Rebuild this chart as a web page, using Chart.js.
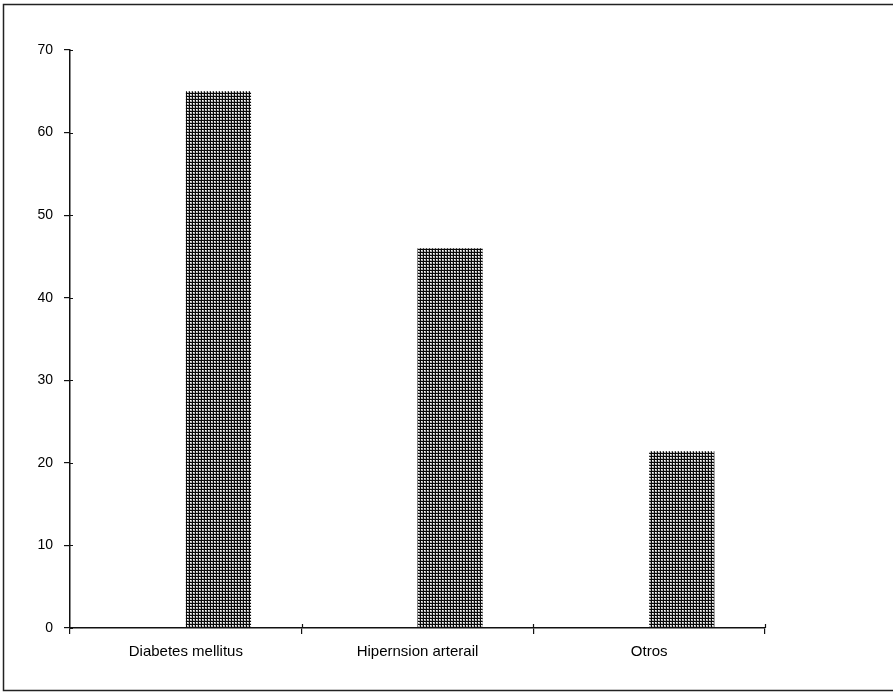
<!DOCTYPE html>
<html>
<head>
<meta charset="utf-8">
<script src="https://cdn.jsdelivr.net/npm/chart.js@4/dist/chart.umd.min.js"></script>
<style>
  html, body { margin: 0; padding: 0; background: #fff; }
  #wrap { width: 894px; height: 695px; position: relative; }
</style>
</head>
<body>
<div id="wrap"><canvas id="c" width="894" height="695"></canvas></div>
<script>
const categories = ["Diabetes mellitus", "Hipernsion arterail", "Otros"];
const values = [65, 46, 21.4];
const emptySeries = [null, null, null];
const yTicks = [0, 10, 20, 30, 40, 50, 60, 70];

function makePattern() {
  const t = document.createElement('canvas');
  t.width = 3; t.height = 3;
  const g = t.getContext('2d');
  g.fillStyle = '#b4b4b4';
  g.fillRect(0, 0, 3, 3);
  g.fillStyle = '#ffffff';
  g.fillRect(1, 1, 1, 1);
  g.fillStyle = '#0a0a0a';
  g.fillRect(0, 0, 3, 1);
  g.fillRect(0, 0, 1, 3);
  return document.getElementById('c').getContext('2d').createPattern(t, 'repeat');
}

const framePlugin = {
  id: 'frame',
  beforeDraw(chart) {
    const ctx = chart.ctx;
    ctx.save();
    ctx.fillStyle = '#fff';
    ctx.fillRect(0, 0, chart.width, chart.height);
    ctx.strokeStyle = '#222';
    ctx.lineWidth = 1.5;
    ctx.beginPath();
    ctx.moveTo(893, 4.5);
    ctx.lineTo(3.5, 4.5);
    ctx.lineTo(3.5, 690.5);
    ctx.lineTo(893, 690.5);
    ctx.stroke();
    ctx.restore();
  },
  afterDraw(chart) {
    const ctx = chart.ctx;
    const y = chart.scales.y, x = chart.scales.x;
    ctx.save();
    ctx.strokeStyle = '#111';
    ctx.lineWidth = 1.2;
    ctx.beginPath();
    yTicks.forEach(v => {
      const py = Math.round(y.getPixelForValue(v)) + 0.5;
      ctx.moveTo(x.left, py);
      ctx.lineTo(x.left + 3, py);
    });
    for (let i = 1; i <= categories.length; i++) {
      const px = (x.getPixelForTick(i - 1) + (i < categories.length ? x.getPixelForTick(i) : 2 * x.getPixelForTick(i - 1) - x.getPixelForTick(i - 2))) / 2;
      ctx.moveTo(Math.round(px) + 0.5, y.bottom);
      ctx.lineTo(Math.round(px) + 0.5, y.bottom - 4);
    }
    ctx.stroke();
    ctx.restore();
  }
};

const chart = new Chart(document.getElementById('c'), {
  type: 'bar',
  data: {
    labels: categories,
    datasets: [
      { label: 'vacío', data: emptySeries, backgroundColor: 'transparent' },
      { label: 'Casos', data: values, backgroundColor: makePattern(), borderWidth: 0 }
    ]
  },
  plugins: [framePlugin],
  options: {
    responsive: false,
    animation: false,
    datasets: { bar: { barPercentage: 1.0, categoryPercentage: 0.563 } },
    layout: { padding: { top: 50, right: 129, left: 0, bottom: 0 } },
    plugins: { legend: { display: false }, tooltip: { enabled: false } },
    scales: {
      x: {
        grid: { display: true, drawOnChartArea: false, offset: true, color: '#111', tickLength: 6, lineWidth: 1.2 },
        border: { display: true, color: '#111', width: 1.5 },
        ticks: { color: '#000', font: { family: 'Liberation Sans, Arial', size: 15 }, padding: 9, maxRotation: 0 },
        afterFit(s) { s.height = 695 - 628; }
      },
      y: {
        min: 0, max: 70,
        afterBuildTicks(s) { s.ticks = yTicks.map(v => ({ value: v })); },
        grid: { display: true, drawOnChartArea: false, color: '#111', tickLength: 6, lineWidth: 1.2 },
        border: { display: true, color: '#111', width: 1.5 },
        ticks: { color: '#000', font: { family: 'Liberation Sans, Arial', size: 14 }, padding: 11 },
        afterFit(s) { s.width = 70; }
      }
    }
  }
});
</script>
</body>
</html>
